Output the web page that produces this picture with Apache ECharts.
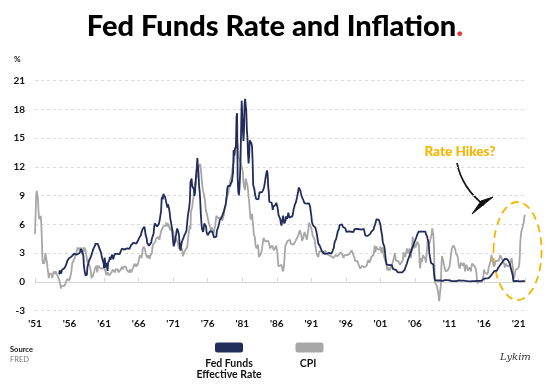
<!DOCTYPE html>
<html>
<head>
<meta charset="utf-8">
<script src="https://cdn.jsdelivr.net/npm/echarts@6/dist/echarts.min.js"></script>
<style>
html,body{margin:0;padding:0;background:#fff;}
#chart{width:550px;height:388px;}
</style>
</head>
<body>
<div id="chart"></div>
<script>
// Monthly Fed Funds Effective Rate, starting July 1954 (%)
const fedStart = 1954 + 6 / 12;
const fedFunds = [
  0.80, 1.22, 1.06, 0.85, 0.83, 1.28,
  1.39, 1.29, 1.35, 1.43, 1.43, 1.64, 1.68, 1.96, 2.18, 2.24, 2.35, 2.48,
  2.45, 2.50, 2.50, 2.62, 2.75, 2.71, 2.75, 2.73, 2.95, 2.96, 2.88, 2.94,
  2.84, 3.00, 2.96, 3.00, 3.00, 3.00, 2.99, 3.24, 3.47, 3.50, 3.28, 2.98,
  2.72, 1.67, 1.20, 1.26, 0.63, 0.93, 0.68, 1.53, 1.76, 1.80, 2.27, 2.42,
  2.48, 2.43, 2.80, 2.96, 2.90, 3.39, 3.47, 3.50, 3.76, 3.98, 4.00, 3.99,
  3.99, 3.97, 3.84, 3.92, 3.85, 3.32, 3.23, 2.98, 2.60, 2.47, 2.44, 1.98,
  1.45, 2.54, 2.02, 1.49, 1.98, 1.73, 1.16, 2.00, 1.88, 2.26, 2.61, 2.33,
  2.15, 2.37, 2.85, 2.78, 2.36, 2.68, 2.71, 2.93, 2.90, 2.90, 2.94, 2.93,
  2.92, 3.00, 2.98, 2.90, 3.00, 2.99, 3.02, 3.49, 3.48, 3.50, 3.48, 3.38,
  3.48, 3.48, 3.43, 3.47, 3.50, 3.50, 3.42, 3.50, 3.45, 3.36, 3.52, 3.85,
  3.90, 3.98, 4.04, 4.09, 4.10, 4.04, 4.09, 4.12, 4.01, 4.08, 4.10, 4.32,
  4.42, 4.60, 4.65, 4.67, 4.90, 5.17, 5.30, 5.53, 5.40, 5.53, 5.76, 5.40,
  4.94, 5.00, 4.53, 4.05, 3.94, 3.98, 3.79, 3.90, 3.99, 3.88, 4.13, 4.51,
  4.60, 4.71, 5.05, 5.76, 6.11, 6.07, 6.02, 6.03, 5.78, 5.91, 5.82, 6.02,
  6.30, 6.61, 6.79, 7.41, 8.67, 8.90, 8.61, 9.19, 9.15, 9.00, 8.85, 8.97,
  8.98, 8.98, 7.76, 8.10, 7.95, 7.61, 7.21, 6.61, 6.29, 6.20, 5.60, 4.90,
  4.14, 3.72, 3.71, 4.16, 4.63, 4.91, 5.31, 5.57, 5.55, 5.20, 4.91, 4.14,
  3.50, 3.29, 3.83, 4.17, 4.27, 4.46, 4.55, 4.80, 4.87, 5.04, 5.06, 5.33,
  5.94, 6.58, 7.09, 7.12, 7.84, 8.49, 10.40, 10.50, 10.78, 10.01, 10.03, 9.95,
  9.65, 8.97, 9.35, 10.51, 11.31, 11.93, 12.92, 12.01, 11.34, 10.06, 9.45, 8.53,
  7.13, 6.24, 5.54, 5.49, 5.22, 5.55, 6.10, 6.14, 6.24, 5.82, 5.22, 5.20,
  4.87, 4.77, 4.84, 4.82, 5.29, 5.48, 5.31, 5.29, 5.25, 5.02, 4.95, 4.65,
  4.61, 4.68, 4.69, 4.73, 5.35, 5.39, 5.42, 5.90, 6.14, 6.47, 6.51, 6.56,
  6.70, 6.78, 6.79, 6.89, 7.36, 7.60, 7.81, 8.04, 8.45, 8.96, 9.76, 10.03,
  10.07, 10.06, 10.09, 10.01, 10.24, 10.29, 10.47, 10.94, 11.43, 13.77, 13.18, 13.78,
  13.82, 14.13, 17.19, 17.61, 10.98, 9.47, 9.03, 9.61, 10.87, 12.81, 15.85, 18.90,
  19.08, 15.93, 14.70, 15.72, 18.52, 19.10, 19.04, 17.82, 15.87, 15.08, 13.31, 12.37,
  13.22, 14.78, 14.68, 14.94, 14.45, 14.15, 12.59, 10.12, 10.31, 9.71, 9.20, 8.95,
  8.68, 8.51, 8.77, 8.80, 8.63, 8.98, 9.37, 9.56, 9.45, 9.48, 9.34, 9.47,
  9.56, 9.59, 9.91, 10.29, 10.32, 11.06, 11.23, 11.64, 11.30, 9.99, 9.43, 8.38,
  8.35, 8.50, 8.58, 8.27, 7.97, 7.53, 7.88, 7.90, 7.92, 7.99, 8.05, 8.27,
  8.14, 7.86, 7.48, 6.99, 6.85, 6.92, 6.56, 6.17, 5.89, 5.85, 6.04, 6.91,
  6.43, 6.10, 6.13, 6.37, 6.85, 6.73, 6.58, 6.73, 7.22, 7.29, 6.69, 6.77,
  6.83, 6.58, 6.58, 6.87, 7.09, 7.51, 7.75, 8.01, 8.19, 8.30, 8.35, 8.76,
  9.12, 9.36, 9.85, 9.84, 9.81, 9.53, 9.24, 8.99, 9.02, 8.84, 8.55, 8.45,
  8.23, 8.24, 8.28, 8.26, 8.18, 8.29, 8.15, 8.13, 8.20, 8.11, 7.81, 7.31,
  6.91, 6.25, 6.12, 5.91, 5.78, 5.90, 5.82, 5.66, 5.45, 5.21, 4.81, 4.43,
  4.03, 4.06, 3.98, 3.73, 3.82, 3.76, 3.25, 3.30, 3.22, 3.10, 3.09, 2.92,
  3.02, 3.03, 3.07, 2.96, 3.00, 3.04, 3.06, 3.03, 3.09, 2.99, 3.02, 2.96,
  3.05, 3.25, 3.34, 3.56, 4.01, 4.25, 4.26, 4.47, 4.73, 4.76, 5.29, 5.45,
  5.53, 5.92, 5.98, 6.05, 6.01, 6.00, 5.85, 5.74, 5.80, 5.76, 5.80, 5.60,
  5.56, 5.22, 5.31, 5.22, 5.24, 5.27, 5.40, 5.22, 5.30, 5.24, 5.31, 5.29,
  5.25, 5.19, 5.39, 5.51, 5.50, 5.56, 5.52, 5.54, 5.54, 5.50, 5.52, 5.50,
  5.56, 5.51, 5.49, 5.45, 5.49, 5.56, 5.54, 5.55, 5.51, 5.07, 4.83, 4.68,
  4.63, 4.76, 4.81, 4.74, 4.74, 4.76, 4.99, 5.07, 5.22, 5.20, 5.42, 5.30,
  5.45, 5.73, 5.85, 6.02, 6.27, 6.53, 6.54, 6.50, 6.52, 6.51, 6.51, 6.40,
  5.98, 5.49, 5.31, 4.80, 4.21, 3.97, 3.77, 3.65, 3.07, 2.49, 2.09, 1.82,
  1.73, 1.74, 1.73, 1.75, 1.75, 1.75, 1.73, 1.74, 1.75, 1.75, 1.34, 1.24,
  1.24, 1.26, 1.25, 1.26, 1.26, 1.22, 1.01, 1.03, 1.01, 1.01, 1.00, 0.98,
  1.00, 1.01, 1.00, 1.00, 1.00, 1.03, 1.26, 1.43, 1.61, 1.76, 1.93, 2.16,
  2.28, 2.50, 2.63, 2.79, 3.00, 3.04, 3.26, 3.50, 3.62, 3.78, 4.00, 4.16,
  4.29, 4.49, 4.59, 4.79, 4.94, 4.99, 5.24, 5.25, 5.25, 5.25, 5.25, 5.24,
  5.25, 5.26, 5.26, 5.25, 5.25, 5.25, 5.26, 5.02, 4.94, 4.76, 4.49, 4.24,
  3.94, 2.98, 2.61, 2.28, 1.98, 2.00, 2.01, 2.00, 1.81, 0.97, 0.39, 0.16,
  0.15, 0.22, 0.18, 0.15, 0.18, 0.21, 0.16, 0.16, 0.15, 0.12, 0.12, 0.12,
  0.11, 0.13, 0.16, 0.20, 0.20, 0.18, 0.18, 0.19, 0.19, 0.19, 0.19, 0.18,
  0.17, 0.16, 0.14, 0.10, 0.09, 0.09, 0.07, 0.10, 0.08, 0.07, 0.08, 0.07,
  0.08, 0.10, 0.13, 0.14, 0.16, 0.16, 0.16, 0.13, 0.14, 0.16, 0.16, 0.16,
  0.14, 0.15, 0.14, 0.15, 0.11, 0.09, 0.09, 0.08, 0.08, 0.09, 0.08, 0.09,
  0.07, 0.07, 0.08, 0.09, 0.09, 0.10, 0.09, 0.09, 0.09, 0.09, 0.09, 0.12,
  0.11, 0.11, 0.11, 0.12, 0.12, 0.13, 0.13, 0.14, 0.14, 0.12, 0.12, 0.24,
  0.34, 0.38, 0.36, 0.37, 0.37, 0.38, 0.39, 0.40, 0.40, 0.40, 0.41, 0.54,
  0.65, 0.66, 0.79, 0.90, 0.91, 1.04, 1.15, 1.16, 1.15, 1.15, 1.16, 1.30,
  1.41, 1.42, 1.51, 1.69, 1.70, 1.82, 1.91, 1.91, 1.95, 2.19, 2.20, 2.27,
  2.40, 2.40, 2.41, 2.42, 2.39, 2.38, 2.40, 2.13, 2.04, 1.83, 1.55, 1.55,
  1.55, 1.58, 0.65, 0.05, 0.05, 0.08, 0.09, 0.10, 0.09, 0.09, 0.09, 0.09,
  0.09, 0.08, 0.07, 0.07, 0.06, 0.08, 0.10, 0.09, 0.08, 0.08, 0.08, 0.08
];

// Monthly CPI, % change from a year earlier, starting January 1951
const cpiStart = 1951;
const cpi = [
  5.0, 7.0, 9.0, 9.5, 9.3, 8.8, 7.5, 6.6, 6.9, 6.5, 6.9, 6.0,
  4.3, 2.3, 1.9, 2.3, 1.9, 2.3, 3.0, 3.0, 2.3, 2.0, 1.3, 0.9,
  0.4, 0.9, 1.1, 0.8, 0.8, 0.8, 0.4, 0.8, 0.8, 1.1, 0.8, 0.6,
  1.1, 1.3, 0.8, 0.8, 0.9, 0.4, 0.4, 0.0, -0.3, -0.7, -0.4, -0.6,
  -0.6, -0.6, -0.6, -0.4, -0.6, -0.6, -0.3, -0.3, 0.3, 0.4, 0.5, 0.4,
  0.2, 0.4, 0.4, 1.0, 1.6, 2.0, 2.0, 2.0, 2.1, 2.5, 2.3, 2.9,
  3.0, 3.3, 3.6, 3.6, 3.7, 3.3, 3.3, 3.6, 3.3, 2.9, 3.3, 3.0,
  3.6, 3.2, 3.6, 3.6, 3.2, 2.8, 2.5, 2.1, 2.1, 2.1, 1.8, 1.8,
  1.4, 1.1, 0.4, 0.4, 0.4, 0.7, 0.7, 1.1, 1.4, 1.5, 1.5, 1.7,
  1.0, 1.4, 1.7, 1.7, 1.7, 1.7, 1.4, 1.4, 1.4, 1.4, 1.4, 1.4,
  1.7, 1.4, 1.4, 1.0, 0.7, 0.7, 1.0, 1.0, 1.0, 0.7, 0.7, 0.7,
  0.7, 1.0, 1.0, 1.3, 1.3, 1.3, 1.3, 1.0, 1.3, 1.3, 1.3, 1.3,
  1.3, 1.0, 1.0, 1.0, 1.0, 1.3, 1.3, 1.6, 1.3, 1.3, 1.6, 1.6,
  1.6, 1.6, 1.6, 1.3, 1.3, 1.3, 1.3, 1.0, 1.0, 1.3, 1.3, 1.0,
  1.0, 1.0, 1.0, 1.6, 1.6, 1.9, 1.6, 1.9, 1.6, 1.6, 1.6, 1.9,
  1.9, 2.5, 2.5, 2.8, 2.8, 2.5, 2.8, 3.4, 3.4, 3.7, 3.7, 3.4,
  3.4, 2.8, 2.8, 2.5, 2.5, 2.8, 2.8, 2.4, 2.7, 2.7, 2.7, 3.0,
  3.6, 3.9, 3.9, 3.9, 3.9, 4.2, 4.5, 4.5, 4.4, 4.4, 4.7, 4.7,
  4.4, 4.4, 5.0, 5.3, 5.3, 5.5, 5.5, 5.8, 5.8, 5.7, 6.0, 5.9,
  6.2, 6.1, 5.8, 6.1, 6.0, 6.0, 6.0, 5.4, 5.7, 5.6, 5.6, 5.6,
  5.3, 4.9, 4.7, 4.2, 4.4, 4.6, 4.4, 4.6, 4.1, 3.8, 3.5, 3.3,
  3.3, 3.5, 3.5, 3.5, 3.2, 2.7, 2.9, 2.9, 3.2, 3.4, 3.4, 3.4,
  3.6, 3.9, 4.6, 5.1, 5.5, 5.9, 5.5, 7.4, 7.4, 7.8, 8.3, 8.7,
  9.4, 9.8, 10.4, 10.1, 10.7, 10.9, 11.5, 10.9, 12.0, 12.0, 12.1, 12.3,
  11.8, 11.2, 10.3, 10.2, 9.5, 9.4, 9.7, 8.6, 7.9, 7.4, 7.4, 7.0,
  6.7, 6.4, 6.1, 6.0, 6.2, 5.9, 5.4, 5.7, 5.5, 5.5, 5.0, 4.9,
  5.2, 5.9, 6.4, 6.9, 6.7, 6.9, 6.7, 6.6, 6.6, 6.4, 6.7, 6.7,
  6.8, 6.4, 6.4, 6.6, 7.0, 7.4, 7.7, 7.9, 8.3, 8.9, 8.9, 9.0,
  9.3, 9.9, 10.1, 10.5, 10.7, 11.0, 11.3, 11.8, 12.2, 12.2, 12.6, 13.3,
  13.9, 14.2, 14.8, 14.7, 14.4, 14.4, 13.1, 12.9, 12.6, 12.8, 12.7, 12.5,
  11.8, 11.4, 10.5, 10.0, 9.8, 9.6, 10.8, 10.8, 11.0, 10.1, 9.6, 8.9,
  8.4, 7.6, 6.8, 6.5, 6.7, 7.1, 6.4, 5.9, 5.0, 5.1, 4.6, 3.8,
  3.7, 3.5, 3.6, 3.9, 3.5, 2.6, 2.4, 2.6, 2.9, 2.9, 3.3, 3.8,
  4.2, 4.6, 4.8, 4.6, 4.2, 4.2, 4.2, 4.3, 4.3, 4.3, 4.1, 3.9,
  3.5, 3.5, 3.7, 3.7, 3.8, 3.7, 3.6, 3.3, 3.1, 3.2, 3.5, 3.8,
  3.9, 3.1, 2.2, 1.6, 1.6, 1.8, 1.6, 1.6, 1.8, 1.5, 1.3, 1.1,
  1.5, 2.1, 3.0, 3.8, 3.9, 3.7, 3.9, 4.3, 4.4, 4.5, 4.5, 4.4,
  4.0, 3.9, 3.9, 3.9, 3.9, 3.9, 4.1, 4.0, 4.2, 4.2, 4.2, 4.4,
  4.7, 4.8, 5.0, 5.1, 5.4, 5.2, 5.0, 4.7, 4.3, 4.5, 4.6, 4.6,
  5.2, 5.2, 5.2, 4.7, 4.4, 4.7, 4.8, 5.6, 6.2, 6.3, 6.3, 6.3,
  5.6, 5.3, 4.9, 4.9, 4.9, 4.7, 4.4, 3.8, 3.4, 2.9, 3.0, 3.1,
  2.6, 2.8, 3.2, 3.2, 3.0, 3.1, 3.2, 3.1, 2.9, 3.2, 3.0, 2.9,
  3.3, 3.2, 3.0, 3.2, 3.2, 3.0, 2.8, 2.8, 2.7, 2.8, 2.7, 2.7,
  2.5, 2.5, 2.5, 2.4, 2.3, 2.5, 2.8, 2.9, 3.0, 2.6, 2.7, 2.7,
  2.8, 2.9, 2.9, 3.1, 3.2, 3.0, 2.8, 2.6, 2.5, 2.8, 2.6, 2.6,
  2.7, 2.7, 2.8, 2.9, 2.9, 2.8, 2.9, 2.9, 3.0, 3.0, 3.3, 3.3,
  3.0, 3.0, 2.8, 2.5, 2.2, 2.3, 2.2, 2.2, 2.2, 2.1, 1.8, 1.7,
  1.6, 1.4, 1.4, 1.4, 1.7, 1.7, 1.6, 1.6, 1.5, 1.5, 1.5, 1.6,
  1.7, 1.6, 1.7, 2.3, 2.1, 2.0, 2.1, 2.3, 2.6, 2.6, 2.6, 2.7,
  2.8, 3.2, 3.8, 3.1, 3.2, 3.7, 3.7, 3.4, 3.5, 3.4, 3.4, 3.4,
  3.7, 3.5, 3.0, 3.3, 3.6, 3.2, 2.7, 2.7, 2.6, 2.1, 1.9, 1.6,
  1.2, 1.2, 1.5, 1.6, 1.2, 1.1, 1.5, 1.8, 1.5, 2.0, 2.2, 2.4,
  2.6, 3.0, 3.0, 2.2, 2.1, 2.1, 2.1, 2.2, 2.3, 2.0, 1.8, 1.9,
  1.9, 1.7, 1.7, 2.3, 3.1, 3.2, 3.0, 2.6, 2.6, 3.2, 3.5, 3.3,
  3.0, 3.0, 3.1, 3.5, 2.9, 2.5, 3.2, 3.6, 4.7, 4.3, 3.5, 3.4,
  4.0, 3.6, 3.4, 3.5, 4.2, 4.3, 4.1, 3.8, 2.1, 1.4, 2.0, 2.5,
  2.1, 2.4, 2.8, 2.6, 2.7, 2.7, 2.4, 2.0, 2.8, 3.5, 4.3, 4.1,
  4.3, 4.0, 4.0, 3.9, 4.2, 5.0, 5.6, 5.4, 4.9, 3.7, 1.1, -0.1,
  0.0, 0.0, -0.4, -0.6, -1.0, -1.4, -2.0, -1.5, -1.4, -0.2, 1.8, 2.7,
  2.6, 2.2, 2.4, 2.2, 2.0, 1.1, 1.2, 1.1, 1.1, 1.2, 1.1, 1.4,
  1.6, 2.1, 2.6, 3.1, 3.5, 3.5, 3.6, 3.8, 3.9, 3.6, 3.4, 3.0,
  2.9, 2.9, 2.7, 2.3, 1.7, 1.7, 1.4, 1.7, 2.0, 2.2, 1.8, 1.7,
  1.6, 2.0, 1.5, 1.1, 1.4, 1.8, 2.0, 1.5, 1.2, 1.0, 1.2, 1.5,
  1.6, 1.1, 1.5, 1.9, 2.1, 2.1, 2.0, 1.7, 1.7, 1.7, 1.3, 0.8,
  -0.1, 0.0, -0.1, -0.2, 0.0, 0.1, 0.2, 0.2, 0.0, 0.1, 0.4, 0.7,
  1.3, 1.0, 0.9, 1.1, 1.0, 1.0, 0.8, 1.1, 1.5, 1.6, 1.7, 2.1,
  2.5, 2.8, 2.4, 2.2, 1.9, 1.6, 1.7, 1.9, 2.2, 2.0, 2.2, 2.1,
  2.1, 2.2, 2.4, 2.5, 2.8, 2.9, 2.9, 2.7, 2.3, 2.5, 2.2, 1.9,
  1.5, 1.5, 1.9, 2.0, 1.8, 1.6, 1.8, 1.7, 1.7, 1.8, 2.1, 2.3,
  2.5, 2.3, 1.5, 0.3, 0.1, 0.6, 1.0, 1.3, 1.4, 1.2, 1.2, 1.4,
  1.4, 1.7, 2.6, 4.2, 4.9, 5.3, 5.3, 5.2, 5.4, 6.2, 6.8, 7.0
];

const seriesNames = ['Fed Funds Effective Rate', 'CPI'];
const legendLines = [['Fed Funds', 'Effective Rate'], ['CPI']];
const yearTicks = [1951, 1956, 1961, 1966, 1971, 1976, 1981, 1986, 1991, 1996, 2001, 2006, 2011, 2016, 2021];
const yearTickLabels = ["'51", "'56", "'61", "'66", "'71", "'76", "'81", "'86", "'91", "'96", "'01", "'06", "'11", "'16", "'21"];
const yTicks = { min: -3, max: 21, step: 3 };

const NAVY = '#232d5c';
const GRAY = '#a7a7a7';
const GOLD = '#f7b500';
const FONT = 'Lato';

function toPairs(start, arr) {
  return arr.map((v, i) => [start + i / 12, v]);
}

const chart = echarts.init(document.getElementById('chart'), null, { renderer: 'canvas' });

const labelFor = v => {
  const i = yearTicks.indexOf(Math.round(v));
  return i >= 0 ? yearTickLabels[i] : '';
};

const option = {
  animation: false,
  backgroundColor: '#ffffff',
  title: {
    text: '{a|Fed Funds Rate and Inflation}{b|.}',
    left: 'center',
    top: 7,
    textStyle: {
      rich: {
        a: { fontFamily: FONT, fontWeight: 900, fontSize: 29, color: '#000' },
        b: { fontFamily: FONT, fontWeight: 900, fontSize: 29, color: '#e5383b' }
      }
    }
  },
  grid: { left: 35, right: 24.5, top: 80.7, bottom: 77.3, containLabel: false },
  legend: [
    {
      data: [seriesNames[0]], left: 215, top: 342.5, padding: 0,
      icon: 'roundRect', itemWidth: 28, itemHeight: 10, selectedMode: false,
      formatter: () => '', textStyle: { fontSize: 1 }
    },
    {
      data: [seriesNames[1]], left: 295.5, top: 342.5, padding: 0,
      icon: 'roundRect', itemWidth: 28, itemHeight: 10, selectedMode: false,
      formatter: () => '', textStyle: { fontSize: 1 }
    }
  ],
  xAxis: [
    {
      type: 'value', min: 1951, max: 2022, interval: 5,
      axisLine: { show: true, onZero: true, lineStyle: { color: '#d6d6d6', width: 1 } },
      axisTick: { show: true, inside: true, length: 4, lineStyle: { color: '#d6d6d6' } },
      axisLabel: { show: false },
      splitLine: { show: false }
    },
    {
      type: 'value', min: 1951, max: 2022, interval: 5, position: 'bottom',
      axisLine: { show: false, onZero: false },
      axisTick: { show: false },
      axisLabel: {
        show: true, margin: 8, showMaxLabel: false,
        fontFamily: FONT, fontWeight: 'bold', fontSize: 10, color: '#111',
        formatter: labelFor
      },
      splitLine: { show: false }
    }
  ],
  yAxis: {
    type: 'value', min: yTicks.min, max: yTicks.max, interval: yTicks.step,
    axisLine: { show: false }, axisTick: { show: false },
    axisLabel: { margin: 10, fontFamily: FONT, fontWeight: 'bold', fontSize: 10, color: '#111' },
    splitLine: { show: true, lineStyle: { color: '#dcdcdc', type: [3, 3], width: 1 } }
  },
  series: [
    {
      name: seriesNames[1], type: 'line', showSymbol: false, symbol: 'none',
      data: toPairs(cpiStart, cpi), color: GRAY,
      lineStyle: { color: GRAY, width: 1.8 }, z: 2
    },
    {
      name: seriesNames[0], type: 'line', showSymbol: false, symbol: 'none',
      data: toPairs(fedStart, fedFunds), color: NAVY,
      lineStyle: { color: NAVY, width: 1.8 }, z: 3
    }
  ],
  graphic: [
    { type: 'text', left: 14, top: 55, style: { text: '%', fontFamily: FONT, fontWeight: 'bold', fontSize: 8, fill: '#111' } },
    { type: 'text', x: 229, y: 363.5, style: { text: legendLines[0][0], fontFamily: FONT, fontWeight: 'bold', fontSize: 10.5, fill: '#111', align: 'center', verticalAlign: 'middle' } },
    { type: 'text', x: 229, y: 375, style: { text: legendLines[0][1], fontFamily: FONT, fontWeight: 'bold', fontSize: 10.5, fill: '#111', align: 'center', verticalAlign: 'middle' } },
    { type: 'text', x: 308, y: 363.5, style: { text: legendLines[1][0], fontFamily: FONT, fontWeight: 'bold', fontSize: 10.5, fill: '#111', align: 'center', verticalAlign: 'middle' } },
    { type: 'text', x: 10, y: 350, style: { text: 'Source', fontFamily: FONT, fontWeight: 'bold', fontSize: 7.5, fill: '#111', verticalAlign: 'middle' } },
    { type: 'text', x: 10, y: 359.5, style: { text: 'FRED', fontFamily: FONT, fontSize: 7.5, fill: '#777', verticalAlign: 'middle' } },
    { type: 'text', x: 500, y: 357, style: { text: 'Lykim', fontFamily: 'DejaVu Serif', fontStyle: 'italic', fontSize: 10, fill: '#333', verticalAlign: 'middle' } },
    { type: 'text', x: 460, y: 152, style: { text: 'Rate Hikes?', fontFamily: FONT, fontWeight: 900, fontSize: 13.5, fill: GOLD, align: 'center', verticalAlign: 'middle' } },
    { type: 'bezierCurve', shape: { x1: 457, y1: 163, cpx1: 462, cpy1: 188, x2: 484, y2: 205 }, style: { stroke: '#111', lineWidth: 1.6, fill: null } },
    { type: 'polygon', shape: { points: [[472, 214], [481, 201], [493, 197]] }, style: { fill: '#111', stroke: '#111', lineWidth: 1 } },
    { type: 'ellipse', shape: { cx: 517.5, cy: 251, rx: 24, ry: 49 }, style: { fill: null, stroke: GOLD, lineWidth: 1.8, lineDash: [8, 5] } }
  ]
};

chart.setOption(option);
</script>
</body>
</html>
